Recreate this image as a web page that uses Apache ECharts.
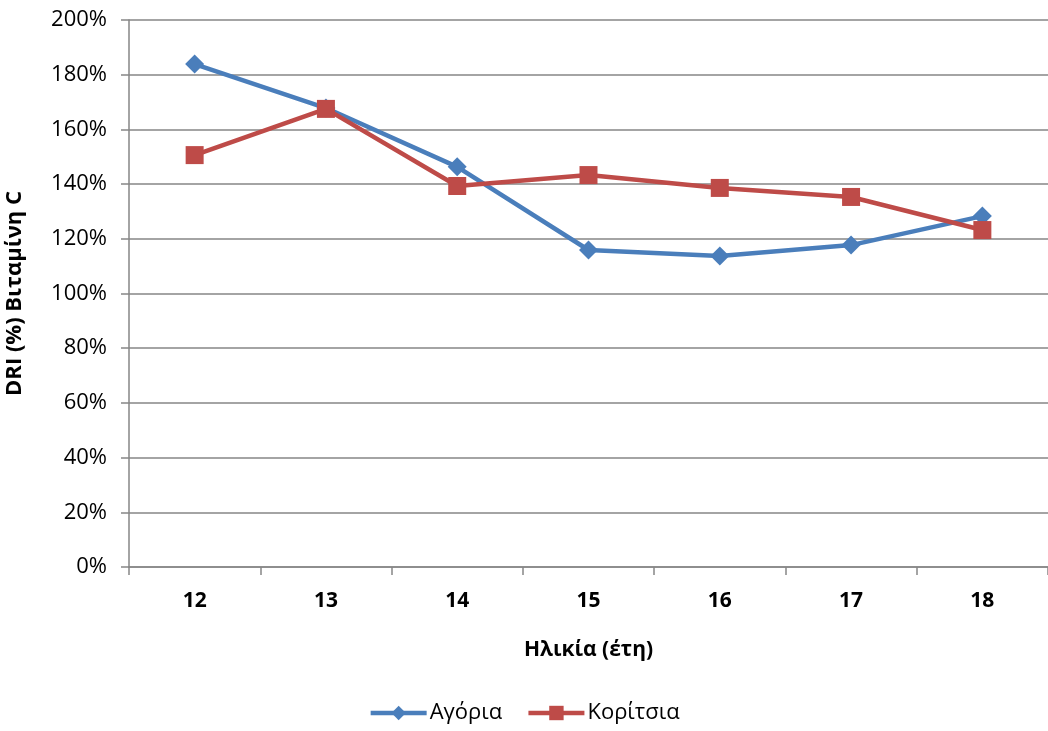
<!DOCTYPE html>
<html><head><meta charset="utf-8">
<script src="https://cdn.jsdelivr.net/npm/echarts@6/dist/echarts.min.js"></script>
<style>html,body{margin:0;padding:0;background:#fff}#c{width:1048px;height:731px}</style>
</head><body><div id="c"></div>
<script>
const categories = ['12','13','14','15','16','17','18'];
const boys = [183.9, 167.8, 146.3, 115.9, 113.7, 117.7, 128.3];
const girls = [150.6, 167.5, 139.3, 143.3, 138.6, 135.3, 123.2];
const seriesNames = ['Αγόρια', 'Κορίτσια'];
const xName = 'Ηλικία (έτη)';
const yName = 'DRI (%) Βιταμίνη C';

const font = '"Open Sans", "DejaVu Sans", sans-serif';
const chart = echarts.init(document.getElementById('c'), null, {renderer: 'canvas'});
chart.setOption({
  animation: false,
  textStyle: {fontFamily: font},
  grid: {left: 129, right: 0, top: 20, bottom: 164, containLabel: false, outerBoundsMode: 'none'},
  legend: {
    bottom: 2, left: 'center', itemWidth: 56, itemHeight: 18, itemGap: 24,
    lineStyle: {width: 4.5},
    textStyle: {fontSize: 22, color: '#000', fontFamily: font, padding: [0, 0, 0, -2]},
    data: seriesNames
  },
  xAxis: {
    type: 'category', data: categories, boundaryGap: true,
    name: xName, nameLocation: 'middle', nameGap: 73,
    nameTextStyle: {fontSize: 21, fontWeight: 'bold', color: '#000', fontFamily: font},
    axisLine: {lineStyle: {color: '#868686', width: 1.5}},
    axisTick: {show: true, alignWithLabel: false, length: 8, lineStyle: {color: '#868686', width: 1.5}},
    axisLabel: {fontSize: 21, fontWeight: 'bold', color: '#000', margin: 24, fontFamily: font}
  },
  yAxis: {
    type: 'value', min: 0, max: 200, interval: 20,
    name: yName, nameLocation: 'middle', nameGap: 103, nameRotate: 90,
    nameTextStyle: {fontSize: 22, fontWeight: 'bold', color: '#000', fontFamily: font},
    axisLine: {show: true, lineStyle: {color: '#868686', width: 1.5}},
    axisTick: {show: true, length: 8, lineStyle: {color: '#868686', width: 1.5}},
    axisLabel: {fontSize: 22, color: '#000', margin: 22, formatter: '{value}%', fontFamily: font},
    splitLine: {show: true, lineStyle: {color: '#868686', width: 1.5}}
  },
  series: [
    {
      name: seriesNames[0], type: 'line', data: boys,
      symbol: 'diamond', symbolSize: 19,
      lineStyle: {color: '#4A7EBB', width: 4.5},
      itemStyle: {color: '#4A7EBB'}
    },
    {
      name: seriesNames[1], type: 'line', data: girls,
      symbol: 'rect', symbolSize: 18,
      lineStyle: {color: '#BE4B48', width: 4.5},
      itemStyle: {color: '#BE4B48'}
    }
  ]
});
</script></body></html>
